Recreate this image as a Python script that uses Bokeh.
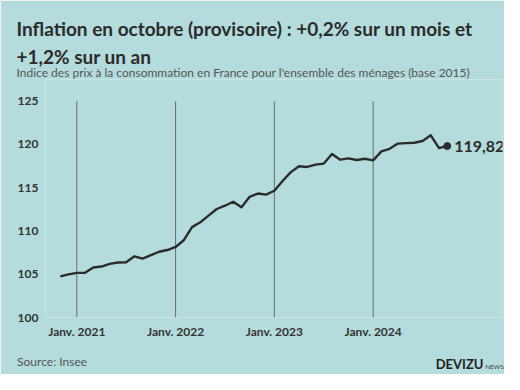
from bokeh.plotting import figure
from bokeh.models import FixedTicker, ColumnDataSource, Title, LinearAxis
from bokeh.core.properties import value
from bokeh.embed import file_html
from bokeh.resources import INLINE

# Data: monthly CPI (base 2015), Nov 2020 .. Oct 2024
months = list(range(-2, 46))  # 0 = Janv. 2021
cpi = [104.75, 104.98, 105.16, 105.16, 105.78, 105.89, 106.20, 106.35, 106.39,
       107.07, 106.80, 107.20, 107.60, 107.80, 108.15, 108.93, 110.45, 111.00,
       111.78, 112.54, 112.92, 113.38, 112.73, 113.95, 114.33, 114.20, 114.65,
       115.77, 116.80, 117.48, 117.40, 117.67, 117.79, 118.90, 118.24, 118.39,
       118.20, 118.35, 118.16, 119.20, 119.50, 120.10, 120.15, 120.20, 120.40,
       121.06, 119.58, 119.82]
tick_pos = [0, 12, 24, 36]
tick_labels = ["Janv. 2021", "Janv. 2022", "Janv. 2023", "Janv. 2024"]
y_ticks = [100, 105, 110, 115, 120, 125]
y_min, y_max = 100, 125
last_label = "119,82"
title1 = "Inflation en octobre (provisoire) : +0,2% sur un mois et"
title2 = "+1,2% sur un an"
subtitle = "Indice des prix à la consommation en France pour l'ensemble des ménages (base 2015)"
source = "Source: Insee"
brand, brand_small = "DEVIZU", "NEWS"

BG = "#b4dcdc"
DARK = "#2b2b2b"
W, H = 504, 374
FONT = "Lato"
FL, FR, FT, FB = 45, 2, 79, 54
PX_PER_UNIT = 8.772  # vertical scale of the reference

p = figure(width=W, height=H, output_backend="svg", toolbar_location=None,
           x_range=(-3.80, 51.71),
           y_range=(y_min, y_max + (101 - FT) / PX_PER_UNIT),
           min_border_left=FL, min_border_right=FR, min_border_top=FT,
           min_border_bottom=FB, background_fill_color=BG,
           border_fill_color=BG, outline_line_color=None)

# vertical January lines (from 100 to 125)
p.segment(x0=tick_pos, y0=[y_min] * len(tick_pos), x1=tick_pos,
          y1=[y_max] * len(tick_pos), line_color="#5f7373", line_width=1)

src = ColumnDataSource(dict(x=months, y=cpi))
p.line("x", "y", source=src, line_color=DARK, line_width=2.4, line_join="round")
p.scatter(x=[months[-1]], y=[cpi[-1]], size=7, fill_color=DARK, line_color=DARK)
p.text(x=[months[-1]], y=[cpi[-1]], text=[last_label], x_offset=7,
       text_baseline="middle", text_align="left", text_font_size="16px",
       text_font_style="bold", text_color=DARK, text_font=value(FONT))


def style_axis(ax, size, bold, color, standoff):
    ax.axis_line_color = None
    ax.major_tick_line_color = None
    ax.minor_tick_line_color = None
    ax.major_tick_out = 0
    ax.major_tick_in = 0
    ax.minor_tick_out = 0
    ax.minor_tick_in = 0
    ax.major_label_text_font = FONT
    ax.major_label_text_font_style = "bold" if bold else "normal"
    ax.major_label_text_font_size = size
    ax.major_label_text_color = color
    ax.major_label_standoff = standoff


p.xaxis.ticker = FixedTicker(ticks=tick_pos)
p.xaxis.major_label_overrides = {t: l for t, l in zip(tick_pos, tick_labels)}
p.yaxis.ticker = FixedTicker(ticks=y_ticks)
style_axis(p.xaxis[0], "12px", True, "#333333", 6)
style_axis(p.yaxis[0], "12px", True, "#333333", 7)
p.grid.visible = False


def title(text, size, bold, color, standoff):
    p.add_layout(Title(text=text, align="left", offset=16 - FL, standoff=standoff,
                       text_font=FONT, text_font_size=size,
                       text_font_style="bold" if bold else "normal",
                       text_color=color), "above")


# header, from the plot outward
title(subtitle, "12px", False, "#555555", 0)
title(title2, "19px", True, DARK, -11)
title(title1, "19px", True, DARK, 17)


# footer lines as extra bottom axes (one label each)
def footer(text, xpos, size, bold, color, standoff):
    ax = LinearAxis(ticker=FixedTicker(ticks=[xpos]),
                    major_label_overrides={xpos: text})
    style_axis(ax, size, bold, color, standoff)
    p.add_layout(ax, "below")


footer(brand, 46.5, "13px", True, "#222222", 14)
footer(brand_small, 50.75, "6.5px", False, "#444444", -12)
footer(source, -3.0, "12px", False, "#555555", -21)

open("out.html", "w").write(file_html(p, INLINE))
